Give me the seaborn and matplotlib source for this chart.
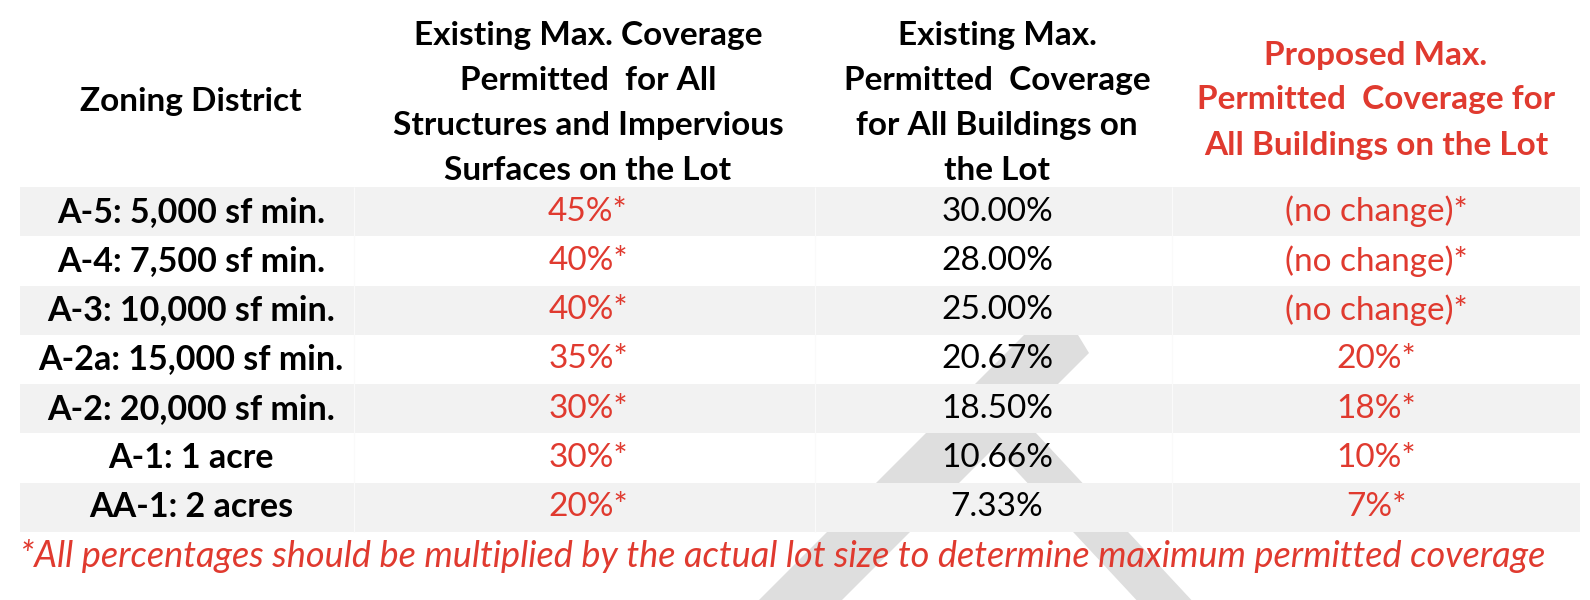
import matplotlib
matplotlib.use("Agg")
import pandas as pd
import seaborn as sns
import matplotlib.pyplot as plt
from matplotlib.colors import ListedColormap
from matplotlib.patches import Polygon

# table content
districts = ["A-5: 5,000 sf min.", "A-4: 7,500 sf min.", "A-3: 10,000 sf min.",
             "A-2a: 15,000 sf min.", "A-2: 20,000 sf min.", "A-1: 1 acre", "AA-1: 2 acres"]
existing_total = ["45%*", "40%*", "40%*", "35%*", "30%*", "30%*", "20%*"]
existing_buildings = ["30.00%", "28.00%", "25.00%", "20.67%", "18.50%", "10.66%", "7.33%"]
proposed = ["(no change)*", "(no change)*", "(no change)*", "20%*", "18%*", "10%*", "7%*"]

headers = [
    ["Zoning District"],
    ["Existing Max. Coverage", "Permitted  for All", "Structures and Impervious", "Surfaces on the Lot"],
    ["Existing Max.", "Permitted  Coverage", "for All Buildings on", "the Lot"],
    ["Proposed Max.", "Permitted  Coverage for", "All Buildings on the Lot"],
]
footnote = ("*All percentages should be multiplied by the actual lot size "
            "to determine maximum permitted coverage")

RED = "#e03a2f"
STRIPE = "#f2f2f2"
MARK = "#dedede"

sns.set_theme(style="white")
plt.rcParams["font.family"] = ["Lato", "DejaVu Sans"]

W, H = 1590, 600
fig = plt.figure(figsize=(15.9, 6), dpi=100)

# background layer with the faint watermark
bg = fig.add_axes([0, 0, 1, 1])
bg.set_xlim(0, W)
bg.set_ylim(H, 0)
bg.axis("off")
bg.add_patch(Polygon([(1029, 330), (1075, 330), (1089, 353), (822, 620), (739, 620)],
                     closed=True, color=MARK, lw=0))
bg.add_patch(Polygon([(954, 404), (1009, 404), (1210, 620), (1155, 620)],
                     closed=True, color=MARK, lw=0))

# striped rows via heatmap (white rows masked -> transparent)
TOP, BOTTOM, LEFT, RIGHT = 187, 532, 20, 1580
body = fig.add_axes([LEFT / W, 1 - BOTTOM / H, (RIGHT - LEFT) / W, (BOTTOM - TOP) / H])
stripe = pd.DataFrame({"band": [i % 2 for i in range(len(districts))]}, index=districts)
sns.heatmap(stripe, mask=stripe == 1, cmap=ListedColormap([STRIPE]), cbar=False,
            xticklabels=False, yticklabels=False, ax=body)
body.set_facecolor("none")
body.axis("off")

# foreground text layer
fg = fig.add_axes([0, 0, 1, 1])
fg.set_facecolor("none")
fg.set_xlim(0, W)
fg.set_ylim(H, 0)
fg.axis("off")
fg.vlines([354, 815, 1172], TOP, BOTTOM, color="#fafafa", lw=0.8)

col_x = [191, 588, 997, 1376]
head_mid = [101, 103, 103, 100]
fs = 24

head_colors = ["black", "black", "black", RED]
for j, lines in enumerate(headers):
    n = len(lines)
    for k, line in enumerate(lines):
        y = head_mid[j] + (k - (n - 1) / 2) * 45
        fg.text(col_x[j], y, line, ha="center", va="center", fontsize=fs,
                fontweight="bold", color=head_colors[j])

rh = (BOTTOM - TOP) / len(districts)
columns = [districts, existing_total, existing_buildings, proposed]
styles = [("black", "bold"), (RED, "normal"), ("black", "normal"), (RED, "normal")]
for j, col in enumerate(columns):
    c, wgt = styles[j]
    for i, val in enumerate(col):
        fg.text(col_x[j], TOP + (i + 0.5) * rh, val, ha="center", va="center",
                fontsize=fs + (0.5 if j == 0 else 0), fontweight=wgt, color=c)

fg.text(20, 556, footnote, ha="left", va="center", fontsize=26, style="italic", color=RED)

fig.savefig("out.png", dpi=100)
